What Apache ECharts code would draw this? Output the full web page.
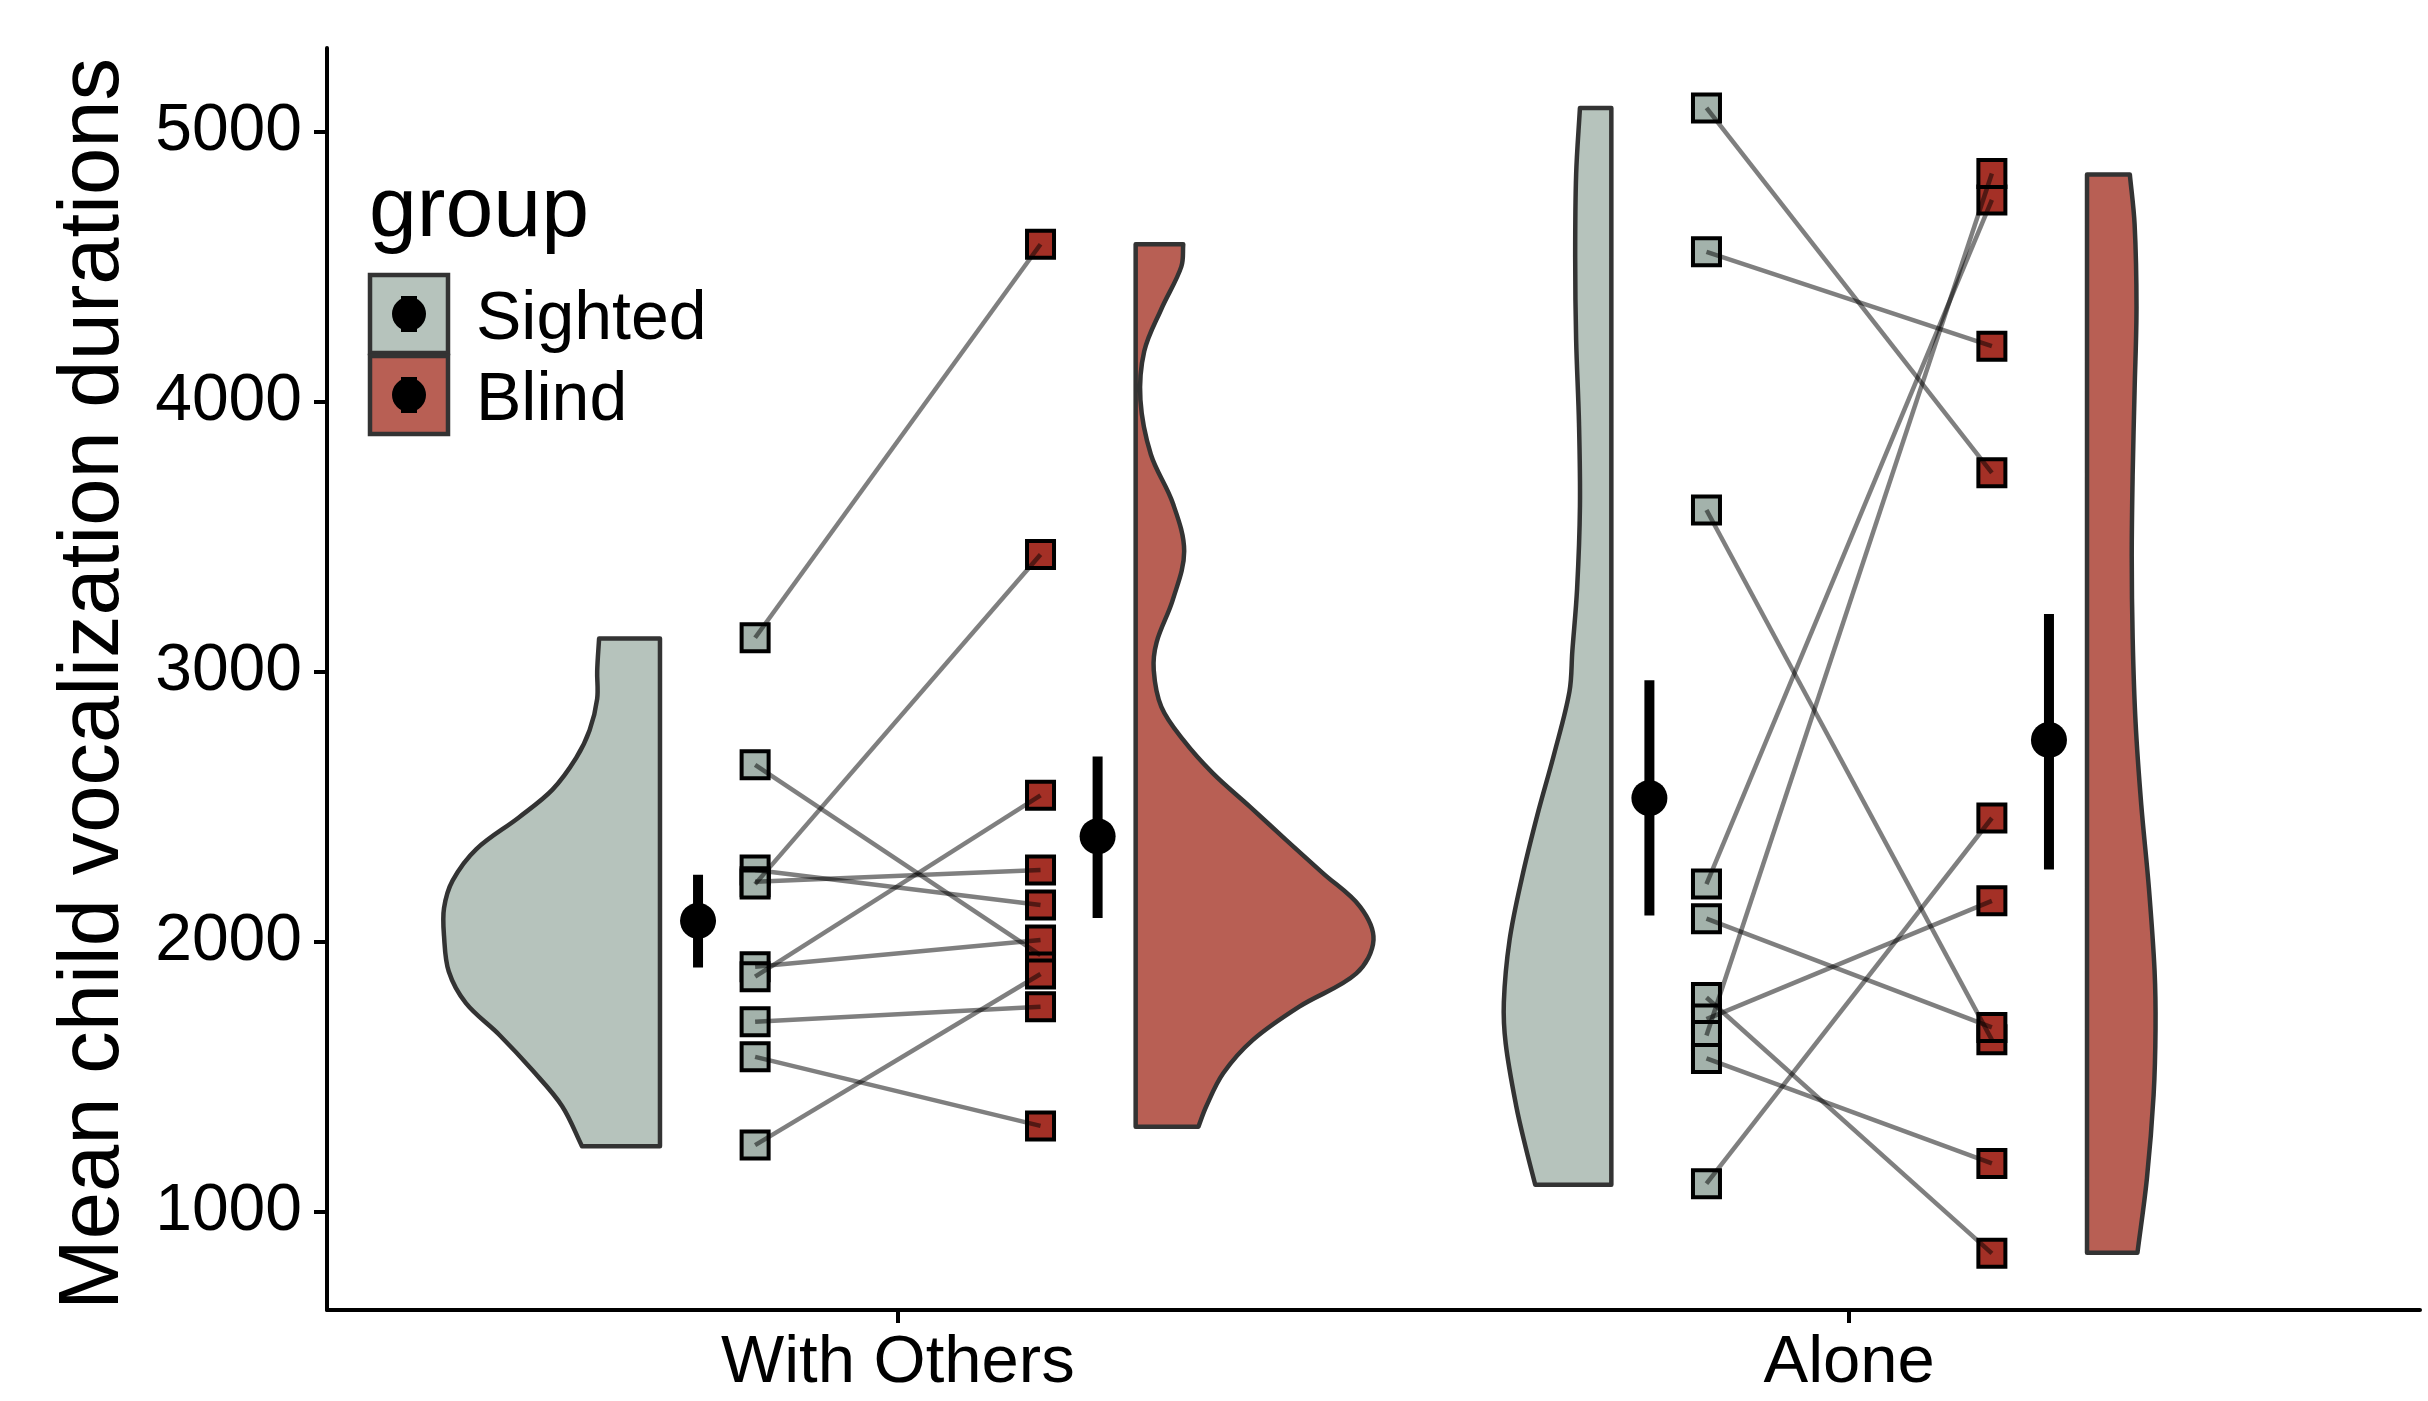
<!DOCTYPE html>
<html>
<head>
<meta charset="utf-8">
<script src="https://cdn.jsdelivr.net/npm/echarts@6.0.0/dist/echarts.min.js"></script>
<style>
  html, body { margin: 0; padding: 0; background: #fff; }
  #chart { width: 2428px; height: 1401px; }
</style>
</head>
<body>
<div id="chart"></div>
<script>
const categories = ['With Others', 'Alone'];
const groups = ['Sighted', 'Blind'];

// one value per child, sighted[i] is joined to blind[i] by a line
const withOthersSighted = [3127, 2656, 2266, 2223, 2214, 1908, 1871, 1704, 1574, 1247];
const withOthersBlind   = [4585, 1951, 2137, 2266, 3435, 2007, 2543, 1760, 1318, 1881];
const aloneSighted = [5090, 4557, 3600, 2214, 2086, 1794, 1714, 1653, 1568, 1104];
const aloneBlind   = [3738, 4207, 1637, 4749, 1683, 846, 2152, 4847, 1179, 2459];

// mean and error bar, order: WO sighted, WO blind, Alone sighted, Alone blind
const meanValues = [2078, 2391, 2533, 2748];
const errLow  = [1905, 2088, 2098, 2268];
const errHigh = [2249, 2687, 2969, 3215];

// half violins: value, half width
const violinWOSightedY = [3124, 3004, 2901, 2784, 2682, 2564, 2462, 2344, 2227, 2125, 2022, 1890, 1773, 1656, 1524, 1392, 1243];
const violinWOSightedW = [0.064, 0.066, 0.066, 0.074, 0.088, 0.113, 0.148, 0.193, 0.218, 0.227, 0.227, 0.222, 0.204, 0.169, 0.134, 0.103, 0.082];
const violinWOBlindY = [4585, 4502, 4345, 4188, 4008, 3806, 3626, 3447, 3267, 3110, 3007, 2871, 2748, 2625, 2501, 2378, 2254, 2130, 2007, 1883, 1760, 1636, 1513, 1389, 1315];
const violinWOBlindW = [0.050, 0.048, 0.027, 0.009, 0.005, 0.016, 0.039, 0.051, 0.039, 0.022, 0.019, 0.027, 0.050, 0.081, 0.120, 0.158, 0.197, 0.236, 0.250, 0.232, 0.172, 0.123, 0.092, 0.074, 0.066];
const violinAloneSightedY = [5090, 4844, 4537, 4230, 3922, 3615, 3308, 3077, 2928, 2698, 2467, 2237, 2006, 1776, 1622, 1392, 1238, 1100];
const violinAloneSightedW = [0.033, 0.037, 0.038, 0.037, 0.034, 0.033, 0.036, 0.041, 0.044, 0.060, 0.078, 0.094, 0.107, 0.113, 0.111, 0.100, 0.090, 0.080];
const violinAloneBlindY = [4843, 4659, 4352, 4044, 3737, 3430, 3122, 2815, 2508, 2201, 1893, 1678, 1433, 1125, 848];
const violinAloneBlindW = [0.045, 0.050, 0.052, 0.050, 0.048, 0.047, 0.048, 0.051, 0.057, 0.065, 0.071, 0.072, 0.070, 0.063, 0.053];

const yTicks = [1000, 2000, 3000, 4000, 5000];

// ---- layout / style ----
const FONT = "'Liberation Sans', Arial, sans-serif";
const sightedFill = '#b6c3bc', blindFill = '#b85f54';
const sightedPoint = '#a3b2ab', blindPoint = '#a43026';
const pointOffset = 0.15, meanOffset = 0.21, violinOffset = 0.25;

const violins = [
  { y: violinWOSightedY, w: violinWOSightedW, base: 1 - violinOffset, side: -1, fill: sightedFill },
  { y: violinWOBlindY, w: violinWOBlindW, base: 1 + violinOffset, side: 1, fill: blindFill },
  { y: violinAloneSightedY, w: violinAloneSightedW, base: 2 - violinOffset, side: -1, fill: sightedFill },
  { y: violinAloneBlindY, w: violinAloneBlindW, base: 2 + violinOffset, side: 1, fill: blindFill }
];

const pairs = [
  { s: withOthersSighted, b: withOthersBlind, c: 1 },
  { s: aloneSighted, b: aloneBlind, c: 2 }
];

const sightedPts = [], blindPts = [], linkData = [];
pairs.forEach(p => {
  p.s.forEach((v, i) => {
    sightedPts.push([p.c - pointOffset, v]);
    blindPts.push([p.c + pointOffset, p.b[i]]);
    linkData.push([p.c - pointOffset, v, p.c + pointOffset, p.b[i]]);
  });
});

const meanX = [1 - meanOffset, 1 + meanOffset, 2 - meanOffset, 2 + meanOffset];
const meanData = meanValues.map((m, i) => [meanX[i], m]);
const errData = meanValues.map((m, i) => [meanX[i], errLow[i], errHigh[i]]);

const chart = echarts.init(document.getElementById('chart'), null, { renderer: 'canvas' });

const option = {
  animation: false,
  backgroundColor: '#fff',
  grid: { left: 327, right: 8, top: 48, bottom: 91, containLabel: false, outerBoundsMode: 'none' },
  xAxis: {
    type: 'value', min: 0.4, max: 2.6,
    splitLine: { show: false },
    axisLine: { lineStyle: { color: '#000', width: 4 } },
    axisTick: { customValues: [1, 2], length: 13, lineStyle: { color: '#000', width: 4 } },
    axisLabel: {
      customValues: [1, 2], margin: 20, fontSize: 67, color: '#000', fontFamily: FONT,
      formatter: v => categories[Math.round(v) - 1]
    }
  },
  yAxis: {
    type: 'value', min: 636, max: 5312,
    splitLine: { show: false },
    axisLine: { show: true, lineStyle: { color: '#000', width: 4 } },
    axisTick: { show: true, customValues: yTicks, length: 13, lineStyle: { color: '#000', width: 4 } },
    axisLabel: {
      customValues: yTicks, margin: 25, fontSize: 66, color: '#000', fontFamily: FONT,
      padding: [5, 0, 0, 0],
      formatter: v => String(v)
    }
  },
  series: [
    {
      type: 'custom', silent: true, z: 2,
      data: violins.map((v, i) => [i]),
      renderItem: (params, api) => {
        const v = violins[params.dataIndex];
        const n = v.y.length;
        const top = api.coord([v.base, v.y[0]]);
        const bot = api.coord([v.base, v.y[n - 1]]);
        const pts = [top, top];
        for (let i = 0; i < n; i++) {
          const p = api.coord([v.base + v.side * v.w[i], v.y[i]]);
          pts.push(p);
          if (i === 0 || i === n - 1) pts.push(p);   // keep corners sharp
        }
        pts.push(bot, bot);
        return {
          type: 'polygon',
          shape: { points: pts, smooth: 0.35 },
          style: { fill: v.fill, stroke: '#333333', lineWidth: 4.5, lineJoin: 'round' }
        };
      }
    },
    {
      name: 'Sighted', type: 'scatter', silent: true, z: 3,
      symbol: 'rect', symbolSize: 27,
      itemStyle: { color: sightedPoint, borderColor: '#000', borderWidth: 4, opacity: 1 },
      data: sightedPts
    },
    {
      name: 'Blind', type: 'scatter', silent: true, z: 3,
      symbol: 'rect', symbolSize: 27,
      itemStyle: { color: blindPoint, borderColor: '#000', borderWidth: 4, opacity: 1 },
      data: blindPts
    },
    {
      type: 'custom', silent: true, z: 4,
      data: linkData,
      renderItem: (params, api) => {
        const a = api.coord([api.value(0), api.value(1)]);
        const b = api.coord([api.value(2), api.value(3)]);
        return {
          type: 'line',
          shape: { x1: a[0], y1: a[1], x2: b[0], y2: b[1] },
          style: { stroke: 'rgba(0,0,0,0.5)', lineWidth: 4.5 }
        };
      }
    },
    {
      type: 'custom', silent: true, z: 5,
      data: errData,
      renderItem: (params, api) => {
        const lo = api.coord([api.value(0), api.value(1)]);
        const hi = api.coord([api.value(0), api.value(2)]);
        return {
          type: 'line',
          shape: { x1: lo[0], y1: lo[1], x2: hi[0], y2: hi[1] },
          style: { stroke: '#000', lineWidth: 10, lineCap: 'butt' }
        };
      }
    },
    {
      type: 'scatter', silent: true, z: 6,
      symbol: 'circle', symbolSize: 36,
      itemStyle: { color: '#000', opacity: 1 },
      data: meanData
    }
  ],
  graphic: [
    {
      type: 'text', x: 95, y: 684, rotation: Math.PI / 2,
      style: { text: 'Mean child vocalization durations', fontSize: 85, fontFamily: FONT, fill: '#000',
               textAlign: 'center', textVerticalAlign: 'middle' }
    },
    {
      type: 'text', x: 369, y: 212,
      style: { text: 'group', fontSize: 86, fontFamily: FONT, fill: '#000', textAlign: 'left', textVerticalAlign: 'middle' }
    },
    { type: 'rect', shape: { x: 370, y: 275, width: 78, height: 78 }, style: { fill: sightedFill, stroke: '#333', lineWidth: 4.5 } },
    { type: 'circle', shape: { cx: 409, cy: 314, r: 17 }, style: { fill: '#000' } },
    { type: 'rect', shape: { x: 401, y: 296, width: 16, height: 36 }, style: { fill: '#000' } },
    { type: 'rect', shape: { x: 370, y: 356, width: 78, height: 78 }, style: { fill: blindFill, stroke: '#333', lineWidth: 4.5 } },
    { type: 'circle', shape: { cx: 409, cy: 395, r: 17 }, style: { fill: '#000' } },
    { type: 'rect', shape: { x: 401, y: 377, width: 16, height: 36 }, style: { fill: '#000' } },
    {
      type: 'text', x: 476, y: 320,
      style: { text: groups[0], fontSize: 68, fontFamily: FONT, fill: '#000', textAlign: 'left', textVerticalAlign: 'middle' }
    },
    {
      type: 'text', x: 476, y: 401,
      style: { text: groups[1], fontSize: 68, fontFamily: FONT, fill: '#000', textAlign: 'left', textVerticalAlign: 'middle' }
    }
  ]
};

chart.setOption(option);
</script>
</body>
</html>
